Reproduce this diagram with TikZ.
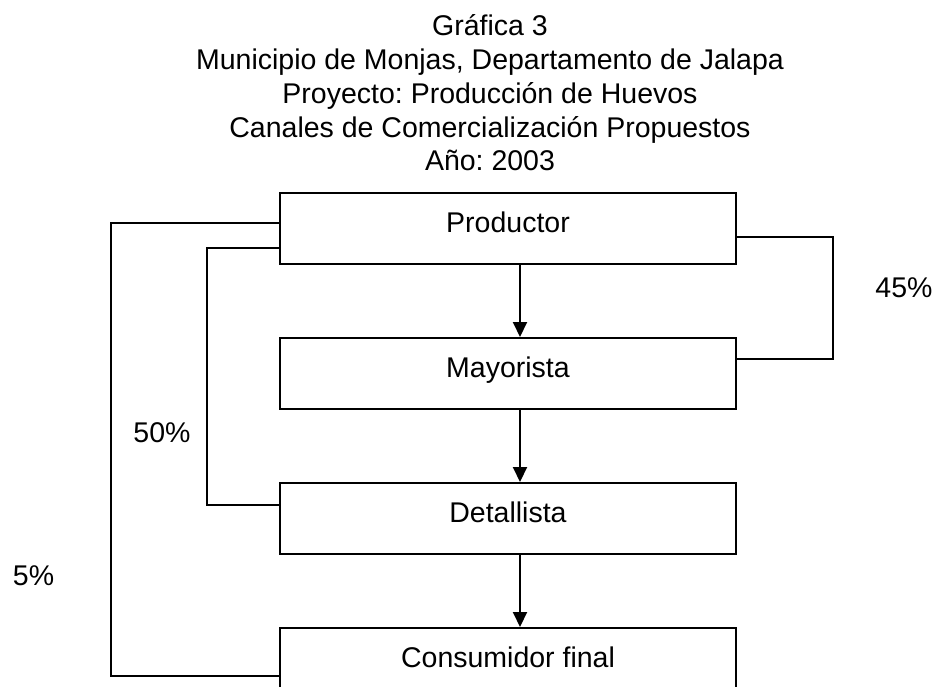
\documentclass[tikz,border=0pt]{standalone}
\usepackage{fontspec}
\setmainfont{Liberation Sans}
\usetikzlibrary{positioning,arrows.meta}
\frenchspacing

\begin{document}
\begin{tikzpicture}[x=1pt, y=-1pt, line width=2pt, node distance=72pt,
    font=\fontsize{28.5}{33}\selectfont,
    box/.style = {draw, rectangle, minimum width=456pt, minimum height=71pt, inner sep=0pt, text height=21pt, text depth=14pt},
    head/.style = {anchor=base, inner sep=0pt},
    flow/.style = {-{Triangle[length=15pt, width=14pt]}},
    pct/.style = {inner sep=0pt}]
\useasboundingbox (0,0) rectangle (936,687);
\node[head] (t1) at (490,36) {Gráfica 3};
\node[head] (t2) at (490,70) {Municipio de Monjas, Departamento de Jalapa};
\node[head] (t3) at (490,103.5) {Proyecto: Producción de Huevos};
\node[head] (t4) at (490,137.5) {Canales de Comercialización Propuestos};
\node[head] (t5) at (490,171) {Año: 2003};
\node[box] (prod) at (508,228.5) {Productor};
\node[box] (may) [below=of prod] {Mayorista};
\node[box] (det) [below=of may] {Detallista};
\node[box] (cons) [below=of det] {Consumidor final};
\draw[flow] ([xshift=12pt]prod.south) -- ([xshift=12pt]may.north);
\draw[flow] ([xshift=12pt]may.south) -- ([xshift=12pt]det.north);
\draw[flow] ([xshift=12pt]det.south) -- ([xshift=12pt]cons.north);
% canales directos
\draw ([yshift=5.5pt]prod.west) -- ++(-168,0) |- ([yshift=-12.5pt]cons.west);
\draw ([yshift=-19.5pt]prod.west) -- ++(-72,0) |- ([yshift=13.5pt]det.west);
\draw ([yshift=-8.5pt]prod.east) -- ++(96,0) |- ([yshift=14.5pt]may.east);
\node[pct] (p45) at (904,288) {45\%};
\node[pct] (p50) at (162,433) {50\%};
\node[pct] (p5) at (33.5,576) {5\%};
\end{tikzpicture}
\end{document}
